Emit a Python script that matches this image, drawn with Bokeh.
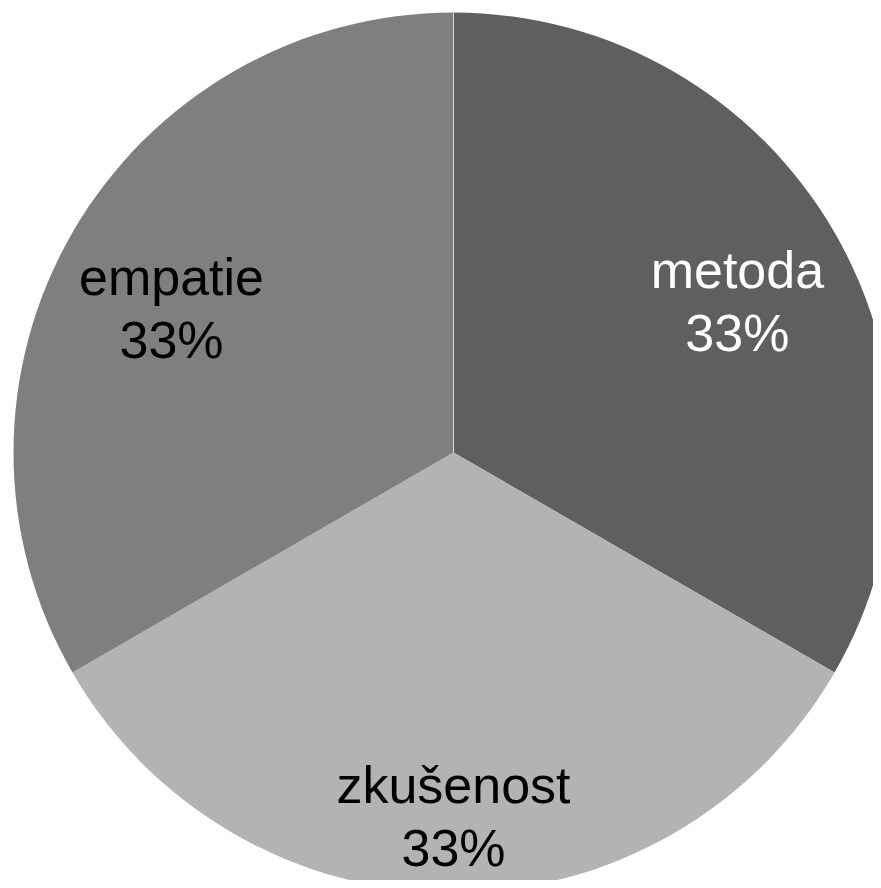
import math
from bokeh.plotting import figure
from bokeh.models import Range1d, ColumnDataSource
from bokeh.core.properties import value
from bokeh.embed import file_html
from bokeh.resources import INLINE

# Data
categories = ["metoda", "zkušenost", "empatie"]
values = [1, 1, 1]
colors = ["#5f5f5f", "#b3b3b3", "#7f7f7f"]
text_colors = ["#ffffff", "#000000", "#000000"]
label_radius = [0.745, 0.80, 0.74]  # fraction of radius for label anchor
label_shift = [-19, -20, -13]       # vertical screen shift of label block (px)

W, H = 873, 880
cx, cy, R = 453, 428, 440

total = sum(values)
starts, ends, names, pcts, lx, ly_name, ly_pct = [], [], [], [], [], [], []
cum = 0.0
for i, v in enumerate(values):
    a0 = math.pi / 2 - 2 * math.pi * cum / total
    cum += v
    a1 = math.pi / 2 - 2 * math.pi * cum / total
    starts.append(a1)
    ends.append(a0)
    mid = (a0 + a1) / 2
    r = label_radius[i] * R
    lx.append(cx + r * math.cos(mid))
    base = cy + r * math.sin(mid)
    ly_name.append(base - label_shift[i])
    ly_pct.append(base - label_shift[i] - 63)
    names.append(categories[i])
    pcts.append(f"{round(100 * v / total)}%")

src = ColumnDataSource(dict(start=starts, end=ends, color=colors, tcolor=text_colors,
                            name=names, pct=pcts, lx=lx, lyn=ly_name, lyp=ly_pct,
                            x=[cx] * 3, y=[cy] * 3))

p = figure(width=W, height=H, x_range=Range1d(0, W), y_range=Range1d(0, H),
           output_backend="svg", toolbar_location=None,
           x_axis_type=None, y_axis_type=None, min_border=0)
p.outline_line_color = None
p.grid.visible = False
p.background_fill_color = "white"
p.border_fill_color = "white"

p.wedge(x="x", y="y", radius=R, start_angle="start", end_angle="end",
        fill_color="color", line_color=None, source=src)
# thin separator at top (start of first slice)
p.ray(x=[cx], y=[cy], length=R, angle=[math.pi / 2], line_color="#d9d9d9", line_width=1)

p.text(x="lx", y="lyn", text="name", text_color="tcolor", source=src,
       text_font=value("Liberation Sans"), text_font_size="52px",
       text_align="center", text_baseline="alphabetic")
p.text(x="lx", y="lyp", text="pct", text_color="tcolor", source=src,
       text_font=value("Liberation Sans"), text_font_size="52px",
       text_align="center", text_baseline="alphabetic")

open("out.html", "w").write(file_html(p, INLINE))
